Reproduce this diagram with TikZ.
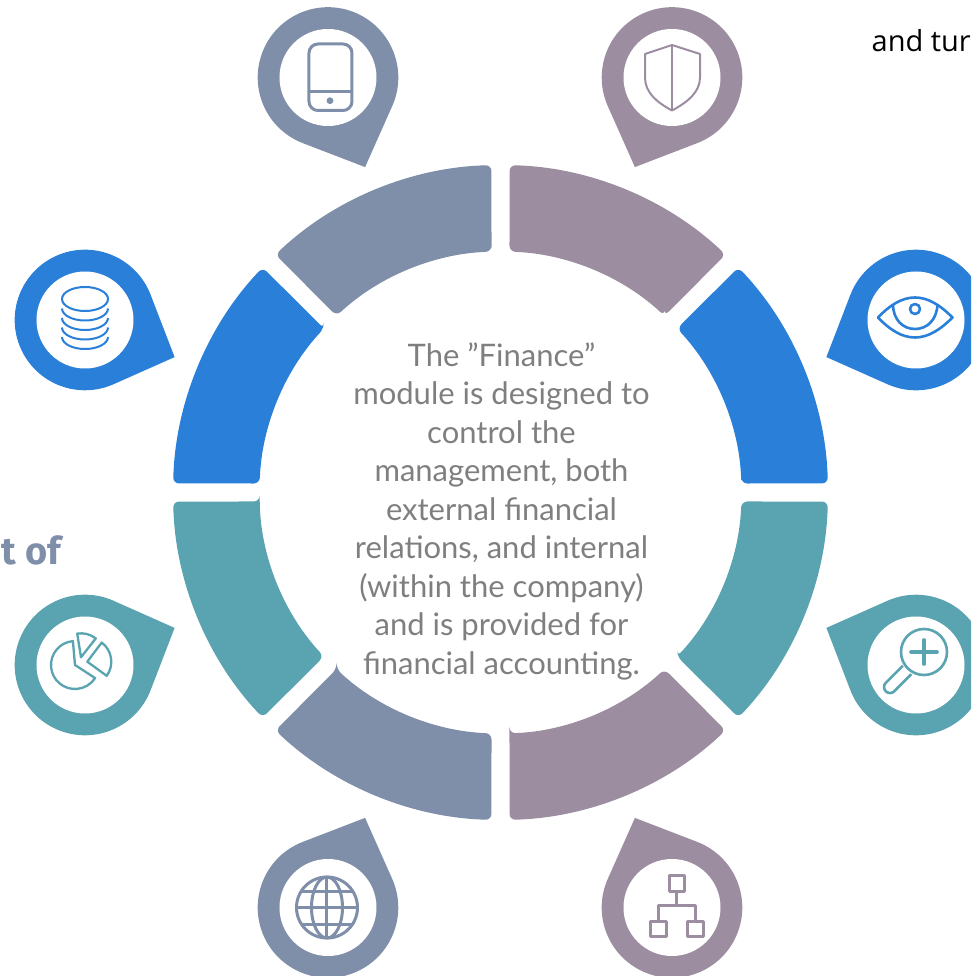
\documentclass[tikz,border=0pt]{standalone}
\usepackage{fontspec}
\setmainfont{Lato}
\newfontfamily\headfont{Fira Sans}
\newfontfamily\notefont{Open Sans}
\definecolor{ringslate}{HTML}{7F8FA9}
\definecolor{ringmauve}{HTML}{9C8EA0}
\definecolor{ringblue}{HTML}{2A7FD9}
\definecolor{ringteal}{HTML}{5AA3B0}
\definecolor{bodygray}{HTML}{7F7F7F}
\newcommand{\ringseg}[2]{\fill[#2, rounded corners=6] (#1+2.14:241) -- (#1+1.58:327.5) arc[start angle=#1+1.58, end angle=#1+43.42, radius=327.5] -- (#1+42.86:241) arc[start angle=#1+42.86, end angle=#1+2.14, radius=241] -- cycle;}
\newcommand{\pinmark}[4]{\begin{scope}[shift={(#1,#2)}]
   \fill[#4] (#3:97) -- (#3+43.5:70.3) arc[start angle=#3+43.5, end angle=#3+316.5, radius=70.3] -- cycle;
   \fill[white] (0,0) circle (48.5);
   \end{scope}}
\begin{document}
\begin{tikzpicture}[x=1pt,y=1pt,iconline/.style={line width=2.6,line join=round,fill=none},
   bodytext/.style={font=\fontsize{31}{38.5}\selectfont,text=bodygray,align=center}]
   \clip (-500.5,-483.5) rectangle (470.5,492.5);
   \ringseg{0}{ringblue}
   \ringseg{45}{ringmauve}
   \ringseg{90}{ringslate}
   \ringseg{135}{ringblue}
   \ringseg{180}{ringteal}
   \ringseg{225}{ringslate}
   \ringseg{270}{ringmauve}
   \ringseg{315}{ringteal}
   \pinmark{-172.5}{415}{-67.5}{ringslate}
   \pinmark{171.5}{415}{-112.5}{ringmauve}
   \pinmark{-415.5}{172.5}{-22.5}{ringblue}
   \pinmark{415.5}{172.5}{202.5}{ringblue}
   \pinmark{-415.5}{-172.5}{22.5}{ringteal}
   \pinmark{415.5}{-172.5}{157.5}{ringteal}
   \pinmark{-172.5}{-415}{67.5}{ringslate}
   \pinmark{171.5}{-415}{112.5}{ringmauve}
   \node[bodytext] (finance) at (1,-18.5) {The "Finance"\\module is designed to\\control the\\management, both\\external financial\\relations, and internal\\(within the company)\\and is provided for\\financial accounting.};
   \node[anchor=base east,font=\headfont\bfseries\fontsize{38}{38}\selectfont,text=ringslate] (headof) at (-436,-72) {t of};
   \node[anchor=base west,font=\notefont\fontsize{29}{29}\selectfont,inner sep=0,text=black] (notetur) at (371,441) {and tur};
   \begin{scope}[shift={(-172.5,415)},ringslate]
     \draw[iconline,line width=3,rounded corners=9] (-19,33.5) rectangle (24,-33);
     \draw[iconline,line width=3] (-19,-14.5) -- (24,-14.5);
     \fill (2,-23.2) circle (3.4);
   \end{scope}
   \begin{scope}[shift={(171.5,415)},ringmauve]
     \draw[iconline,line width=2] (0,32.5) -- (-27,23.5) -- (-27,0) .. controls (-27,-15) and (-15,-25) .. (0,-33) .. controls (15,-25) and (28,-15) .. (28,0) -- (28,23.5) -- cycle;
     \draw[iconline,line width=2] (0,32.5) -- (0,-33);
   \end{scope}
   \begin{scope}[shift={(-415.5,172.5)},ringblue]
     \draw[iconline,line width=2] (0,21) ellipse (23 and 12);
     \draw[iconline,line width=2] (-23,11.5) arc[start angle=180, end angle=360, x radius=23, y radius=12];
     \draw[iconline,line width=2] (-23,2) arc[start angle=180, end angle=360, x radius=23, y radius=12];
     \draw[iconline,line width=2] (-23,-7.5) arc[start angle=180, end angle=360, x radius=23, y radius=12];
     \draw[iconline,line width=2] (-23,-17) arc[start angle=180, end angle=360, x radius=23, y radius=12];
   \end{scope}
   \begin{scope}[shift={(415.5,172.5)},ringblue]
     \draw[iconline] (-38,2.5) .. controls (-26,15) and (-14,22.5) .. (-1,22.5) .. controls (12,22.5) and (24,15) .. (36.5,2.5) .. controls (24,-10) and (12,-17.5) .. (-1,-17.5) .. controls (-14,-17.5) and (-26,-10) .. cycle;
     \draw[iconline] (-23,16) .. controls (-23,0) and (-13,-9) .. (-1,-9) .. controls (11,-9) and (21,0) .. (21.5,16);
     \draw[iconline] (-1,11) circle (5);
   \end{scope}
   \begin{scope}[shift={(-415.5,-172.5)},ringteal]
     \draw[iconline,line width=2.3] (-10,0) -- ++(95:24) arc[start angle=95, end angle=327, radius=24] -- cycle;
     \draw[iconline,line width=2.3] (-4,7.7) -- ++(52:24) arc[start angle=52, end angle=99, radius=24] -- cycle;
     \draw[iconline,line width=2.3] (2.3,3.3) -- ++(-36:24) arc[start angle=-36, end angle=53, radius=24] -- cycle;
   \end{scope}
   \begin{scope}[shift={(415.5,-172.5)},ringteal]
     \draw[iconline] (8,13) circle (23);
     \draw[iconline,line width=3.6,line cap=round] (-5,13) -- (21,13);
     \draw[iconline,line width=3.6,line cap=round] (8,1) -- (8,25);
     \draw[iconline] (-13.2,-0.8) -- (-30.2,-17.8) arc[start angle=135, end angle=315, radius=6] -- (-4.8,-9.2);
   \end{scope}
   \begin{scope}[shift={(-172.5,-415)},ringslate]
     \draw[iconline,line width=3] (-1,0) circle (30.5);
     \draw[iconline,line width=3] (-1,0) ellipse (15.5 and 30.5);
     \draw[iconline,line width=3] (-1,30.5) -- (-1,-30.5);
     \draw[iconline,line width=3] (-31.5,0) -- (29.5,0);
     \draw[iconline,line width=3] (-26.6,16.5) -- (24.6,16.5);
     \draw[iconline,line width=3] (-26.6,-16.5) -- (24.6,-16.5);
   \end{scope}
   \begin{scope}[shift={(171.5,-415)},ringmauve]
     \draw[iconline,line width=3] (-3,32) rectangle (12.5,16.5);
     \draw[iconline,line width=3] (4.75,16.5) -- (4.75,1.7);
     \draw[iconline,line width=3] (-14,-14) -- (-14,1.7) -- (23,1.7) -- (23,-14);
     \draw[iconline,line width=3] (-22,-14) rectangle (-6,-28.5);
     \draw[iconline,line width=3] (15,-14) rectangle (31,-28.5);
   \end{scope}
\end{tikzpicture}
\end{document}
